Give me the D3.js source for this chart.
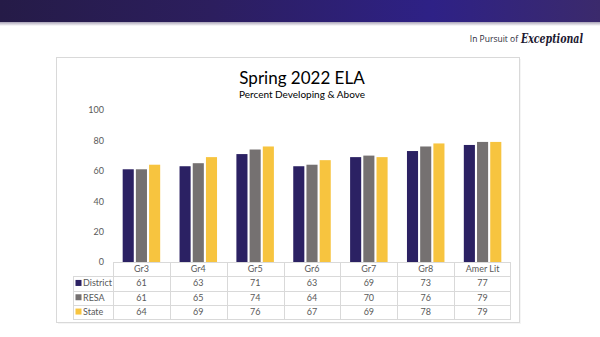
<!DOCTYPE html>
<html><head><meta charset="utf-8">
<script src="https://cdn.jsdelivr.net/npm/d3@7"></script>
<style>body{margin:0;background:#fff;}svg{display:block;}</style>
</head><body>
<script>
const categories = ["Gr3","Gr4","Gr5","Gr6","Gr7","Gr8","Amer Lit"];
const seriesNames = ["District","RESA","State"];
const district = [61,63,71,63,69,73,77];
const resa = [61,65,74,64,70,76,79];
const state = [64,69,76,67,69,78,79];
const yTicks = [0,20,40,60,80,100];
const colors = ["#2b2163","#757171","#f7c43f"];
const series = [district, resa, state];

(function(){
const W=600,H=337;
const svg=d3.select("body").append("svg").attr("width",W).attr("height",H);
const font="Lato, 'Liberation Sans', Arial, sans-serif";

// header band
const defs=svg.append("defs");
const g1=defs.append("linearGradient").attr("id","hdr");
g1.append("stop").attr("offset","0%").attr("stop-color","#251b47");
g1.append("stop").attr("offset","35%").attr("stop-color","#2c1e5e");
g1.append("stop").attr("offset","72%").attr("stop-color","#2e2186");
g1.append("stop").attr("offset","100%").attr("stop-color","#3b2a6c");
const sh=defs.append("linearGradient").attr("id","shd").attr("x1",0).attr("x2",0).attr("y1",0).attr("y2",1);
sh.append("stop").attr("offset","0%").attr("stop-color","#a8a2b6");
sh.append("stop").attr("offset","100%").attr("stop-color","#ffffff");
svg.append("rect").attr("x",0).attr("y",0).attr("width",W).attr("height",22).attr("fill","url(#hdr)");
svg.append("rect").attr("x",0).attr("y",22).attr("width",W).attr("height",4).attr("fill","url(#shd)");

// tagline
svg.append("text").attr("x",518).attr("y",42).attr("text-anchor","end")
  .attr("font-family","'Open Sans',sans-serif").attr("font-size",8.5).attr("fill","#2a2a3a").text("In Pursuit of");
svg.append("text").attr("x",521).attr("y",43)
  .attr("font-family","'DejaVu Serif',serif").attr("font-style","italic").attr("font-weight","bold")
  .attr("font-size",12).attr("fill","#1c1830").attr("textLength",62).attr("lengthAdjust","spacingAndGlyphs").text("Exceptional");

// chart box
svg.append("rect").attr("x",58).attr("y",59).attr("width",463).attr("height",265).attr("fill","#eeeeee").attr("opacity",0.6);
svg.append("rect").attr("x",56.5).attr("y",57.5).attr("width",463).attr("height",265).attr("fill","#fff").attr("stroke","#d9d9d9");

// titles
svg.append("text").attr("x",302).attr("y",84).attr("text-anchor","middle").attr("font-family",font)
  .attr("font-size",17).attr("fill","#000").text("Spring 2022 ELA");
svg.append("text").attr("x",302).attr("y",98).attr("text-anchor","middle").attr("font-family",font)
  .attr("font-size",10).attr("fill","#000").text("Percent Developing & Above");

const x0=d3.scaleBand().domain(categories).range([113,511]);
const x1=d3.scaleBand().domain(seriesNames).range([0,37.5]).paddingInner(0.16);
const y=d3.scaleLinear().domain([0,100]).range([262,110]);

// y axis labels
const ya=svg.append("g").attr("transform","translate(104,0)")
  .call(d3.axisLeft(y).tickValues(yTicks).tickSize(0).tickPadding(0));
ya.select(".domain").remove();
ya.selectAll("text").attr("font-family",font).attr("font-size",9).attr("fill","#595959");

// bars
const off=(x0.bandwidth()-37.5)/2;
seriesNames.forEach((s,si)=>{
  svg.append("g").selectAll("rect").data(categories).join("rect")
    .attr("x",d=>x0(d)+off+x1(s))
    .attr("width",x1.bandwidth())
    .attr("y",(d,i)=>y(series[si][i]))
    .attr("height",(d,i)=>y(0)-y(series[si][i]))
    .attr("fill",colors[si]);
});

// data table
const rowH=14.3, tTop=262, tLeft=73;
const lineC="#d9d9d9";
const tg=svg.append("g").attr("stroke",lineC).attr("stroke-width",1).attr("fill","none");
tg.append("line").attr("x1",113).attr("x2",511).attr("y1",tTop+0.5).attr("y2",tTop+0.5);
for(let r=1;r<=4;r++){
  const yy=Math.round(tTop+rowH*r)+0.5;
  tg.append("line").attr("x1",tLeft).attr("x2",511).attr("y1",yy).attr("y2",yy);
}
const tBot=Math.round(tTop+rowH*4)+0.5;
categories.forEach(c=>{
  const xx=Math.round(x0(c))+0.5;
  tg.append("line").attr("x1",xx).attr("x2",xx).attr("y1",tTop).attr("y2",tBot);
});
tg.append("line").attr("x1",510.5).attr("x2",510.5).attr("y1",tTop).attr("y2",tBot);
tg.append("line").attr("x1",tLeft+0.5).attr("x2",tLeft+0.5).attr("y1",Math.round(tTop+rowH)).attr("y2",tBot);

svg.append("g").selectAll("text").data(categories).join("text")
  .attr("x",d=>x0(d)+x0.bandwidth()/2).attr("y",tTop+rowH/2+3)
  .attr("text-anchor","middle").attr("font-family",font).attr("font-size",9).attr("fill","#595959").text(d=>d);

seriesNames.forEach((s,si)=>{
  const cy=tTop+rowH*(si+1)+rowH/2;
  svg.append("rect").attr("x",75.5).attr("y",cy-3.5).attr("width",6).attr("height",6).attr("fill",colors[si]);
  svg.append("text").attr("x",83).attr("y",cy+3).attr("font-family",font).attr("font-size",9).attr("fill","#595959").text(s);
  svg.append("g").selectAll("text").data(series[si]).join("text")
    .attr("x",(d,i)=>x0(categories[i])+x0.bandwidth()/2).attr("y",cy+3)
    .attr("text-anchor","middle").attr("font-family",font).attr("font-size",9).attr("fill","#595959").text(d=>d);
});
})();
</script>
</body></html>
